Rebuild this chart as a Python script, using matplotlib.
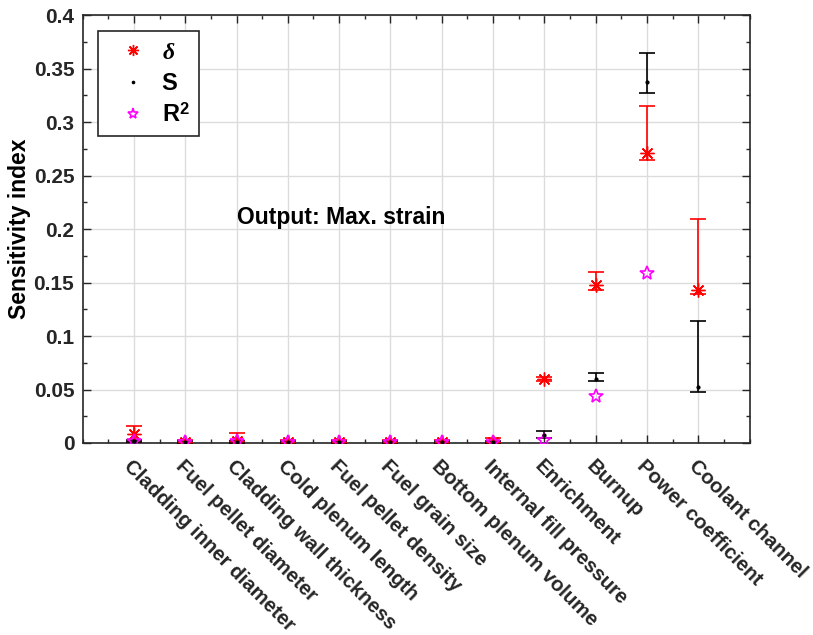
import numpy as np
import matplotlib
matplotlib.use("Agg")
import matplotlib.pyplot as plt
from matplotlib.ticker import MultipleLocator

categories = ["Cladding inner diameter", "Fuel pellet diameter", "Cladding wall thickness",
              "Cold plenum length", "Fuel pellet density", "Fuel grain size",
              "Bottom plenum volume", "Internal fill pressure", "Enrichment", "Burnup",
              "Power coefficient", "Coolant channel"]

delta_val = [0.008, 0.001, 0.002, 0.001, 0.001, 0.001, 0.001, 0.001, 0.060, 0.148, 0.271, 0.143]
delta_lo  = [0.001, 0.000, 0.000, 0.000, 0.000, 0.000, 0.000, 0.000, 0.058, 0.143, 0.265, 0.139]
delta_hi  = [0.016, 0.003, 0.009, 0.003, 0.003, 0.003, 0.003, 0.005, 0.062, 0.160, 0.315, 0.209]

s_val = [0.002, 0.001, 0.001, 0.001, 0.001, 0.001, 0.001, 0.001, 0.007, 0.060, 0.338, 0.052]
s_lo  = [0.001, 0.000, 0.000, 0.000, 0.000, 0.000, 0.000, 0.000, 0.005, 0.058, 0.327, 0.048]
s_hi  = [0.003, 0.002, 0.002, 0.002, 0.002, 0.002, 0.002, 0.002, 0.011, 0.065, 0.365, 0.114]

r2_val = [0.002, 0.001, 0.002, 0.001, 0.001, 0.001, 0.001, 0.001, 0.003, 0.044, 0.159, np.nan]

yticks = [0, 0.05, 0.1, 0.15, 0.2, 0.25, 0.3, 0.35, 0.4]
ytick_labels = ['0', '0.05', '0.1', '0.15', '0.2', '0.25', '0.3', '0.35', '0.4']

plt.rcParams['font.family'] = ['Liberation Sans', 'DejaVu Sans']
plt.rcParams['font.weight'] = 'bold'
plt.rcParams['mathtext.fontset'] = 'custom'
plt.rcParams['mathtext.it'] = 'Liberation Serif:italic'
plt.rcParams['mathtext.rm'] = 'Liberation Sans:bold'
plt.rcParams['mathtext.bf'] = 'Liberation Sans:bold'

fig = plt.figure(figsize=(8.13, 6.35), dpi=100)
ax = fig.add_axes([0.1016, 0.3024, 0.8204, 0.6736])

x = np.arange(1, len(categories) + 1)
dv = np.array(delta_val); sv = np.array(s_val)
asterisk = (8, 2, 0)

ax.errorbar(x, dv, yerr=[dv - np.array(delta_lo), np.array(delta_hi) - dv], fmt='none',
            ecolor='red', elinewidth=1.2, capsize=6, capthick=1.2, zorder=3)
ax.plot(x, dv, linestyle='none', marker=asterisk, color='red', markersize=10,
        markeredgewidth=1.0, label=r'$\delta$', zorder=4)
ax.errorbar(x, sv, yerr=[sv - np.array(s_lo), np.array(s_hi) - sv], fmt='none',
            ecolor='black', elinewidth=1.2, capsize=6, capthick=1.2, zorder=3)
ax.plot(x, sv, linestyle='none', marker='.', color='black', markersize=4,
        label='S', zorder=5)
ax.plot(x, r2_val, linestyle='none', marker='*', markerfacecolor='none',
        markeredgecolor='magenta', markersize=10, markeredgewidth=1.2,
        label=r'R$^\mathrm{2}$', zorder=4)

ax.set_xlim(0, 13)
ax.set_ylim(0, 0.4)
ax.set_xticks(x)
ax.set_xticklabels(categories, rotation=-45, ha='left', va='top',
                   rotation_mode='anchor', fontsize=14.7, fontweight='bold')
ax.xaxis.set_minor_locator(MultipleLocator(0.5))
ax.set_yticks(yticks)
ax.set_yticklabels(ytick_labels, fontsize=15, fontweight='bold')
ax.yaxis.set_minor_locator(MultipleLocator(0.025))
ax.tick_params(which='both', direction='in', top=True, right=True, colors='#262626')
ax.tick_params(which='major', length=6, width=1)
ax.tick_params(which='minor', length=3, width=1)
ax.tick_params(axis='x', which='major', pad=10)
ax.tick_params(axis='y', which='major', pad=6)
ax.grid(True, which='major', color='#dcdcdc', linewidth=1)
ax.set_axisbelow(True)
for sp in ax.spines.values():
    sp.set_color('#262626')
    sp.set_linewidth(1.2)

ax.set_ylabel('Sensitivity index', fontsize=16.5, fontweight='bold', labelpad=1.5)
ax.text(3.0, 0.205, 'Output: Max. strain', fontsize=16.5, fontweight='bold')

leg = ax.legend(loc='upper left', bbox_to_anchor=(0.023, 0.963), borderaxespad=0,
                prop={'weight': 'bold', 'size': 17}, fancybox=False, edgecolor='#262626',
                framealpha=1, handletextpad=0.15, borderpad=0.4, labelspacing=0.35,
                handlelength=2.15, markerscale=0.8)
leg.get_frame().set_linewidth(1.2)

fig.savefig('out.png', dpi=100)
